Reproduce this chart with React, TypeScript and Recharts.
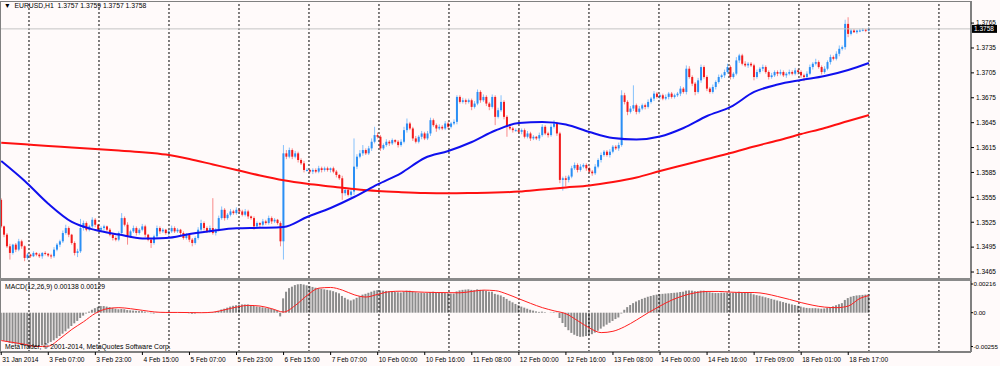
import React from "react";
import { ComposedChart, Bar, Line, XAxis, YAxis, ReferenceLine } from "recharts";

const FONT = "'Liberation Sans', Arial, sans-serif";

// EURUSD H1, prices kept as pips above 1.3400
const firstOpen = 152;
const closes = [
  120, 110, 96, 88, 98, 92, 102, 96, 82, 86,
  84, 88, 86, 84, 88, 87, 85, 84, 92, 98,
  102, 112, 118, 110, 100, 88, 90, 118, 124, 116,
  120, 128, 122, 116, 118, 120, 116, 110, 106, 104,
  112, 130, 122, 108, 114, 118, 112, 116, 120, 110,
  104, 100, 108, 118, 114, 116, 112, 114, 118, 114,
  116, 112, 106, 110, 104, 100, 106, 116, 124, 118,
  114, 118, 112, 116, 130, 140, 130, 134, 138, 136,
  140, 138, 134, 138, 132, 130, 120, 124, 122, 126,
  124, 130, 126, 128, 124, 102, 208, 204, 212, 204,
  208, 200, 196, 188, 188, 186, 188, 186, 190, 188,
  190, 188, 190, 186, 182, 178, 160, 164, 158, 162,
  192, 204, 208, 212, 208, 214, 222, 230, 228, 214,
  218, 222, 220, 224, 222, 218, 222, 236, 244, 238,
  226, 222, 228, 232, 226, 232, 248, 242, 238, 240,
  238, 244, 240, 244, 246, 276, 270, 272, 270, 272,
  264, 268, 282, 272, 276, 268, 264, 276, 252, 260,
  270, 252, 240, 238, 236, 236, 234, 236, 228, 232,
  226, 228, 226, 230, 240, 232, 230, 240, 244, 232,
  176, 178, 176, 180, 190, 194, 188, 192, 194, 190,
  186, 184, 192, 200, 206, 210, 206, 210, 216, 214,
  218, 278, 270, 258, 262, 266, 258, 262, 266, 264,
  270, 274, 280, 276, 278, 274, 276, 280, 276, 278,
  280, 286, 282, 310, 300, 292, 282, 296, 312, 300,
  286, 282, 288, 294, 300, 302, 306, 312, 300, 304,
  320, 326, 316, 314, 316, 314, 300, 306, 310, 312,
  306, 300, 302, 306, 304, 306, 302, 304, 306, 304,
  308, 306, 302, 300, 304, 312, 316, 318, 312, 306,
  310, 318, 324, 322, 328, 334, 336, 364, 352, 356,
  354, 356, 356, 357, 356, 358,
];
const wickUp = [
  2, 1, 2, 3, 1, 2, 3, 2, 1, 2,
  1, 2, 1, 2, 1, 2, 1, 2, 3, 2,
  2, 3, 4, 2, 1, 2, 3, 11, 3, 2,
  2, 3, 2, 1, 2, 2, 1, 2, 1, 2,
  2, 6, 2, 3, 2, 3, 2, 2, 3, 2,
  1, 2, 2, 3, 2, 2, 1, 2, 3, 2,
  2, 1, 2, 2, 1, 2, 2, 3, 4, 2,
  2, 3, 36, 2, 3, 4, 2, 2, 3, 2,
  3, 2, 2, 3, 2, 1, 2, 2, 1, 3,
  2, 3, 2, 2, 1, 2, 10, 4, 3, 2,
  3, 2, 2, 3, 2, 1, 2, 2, 3, 2,
  2, 2, 1, 2, 2, 1, 3, 2, 2, 3,
  34, 3, 4, 6, 2, 3, 4, 10, 3, 2,
  2, 3, 2, 2, 1, 2, 3, 4, 6, 2,
  2, 3, 2, 3, 2, 3, 3, 2, 2, 3,
  2, 3, 2, 2, 3, 2, 2, 3, 2, 2,
  2, 3, 3, 2, 3, 2, 2, 3, 2, 3,
  8, 2, 2, 3, 2, 2, 1, 2, 2, 3,
  2, 2, 1, 3, 3, 2, 2, 3, 4, 2,
  2, 2, 3, 2, 3, 3, 2, 3, 2, 2,
  2, 2, 3, 2, 3, 2, 2, 3, 2, 2,
  3, 6, 3, 2, 3, 24, 2, 3, 2, 2,
  3, 2, 3, 2, 2, 2, 3, 2, 2, 2,
  2, 3, 2, 4, 3, 2, 2, 3, 3, 2,
  2, 2, 3, 2, 3, 2, 3, 4, 2, 2,
  4, 2, 2, 3, 2, 2, 2, 3, 2, 3,
  2, 2, 3, 2, 2, 3, 2, 2, 3, 2,
  3, 2, 2, 2, 3, 3, 2, 4, 2, 2,
  3, 2, 3, 2, 3, 4, 2, 5, 8, 2,
  2, 1, 2, 2, 1, 2,
];
const wickDown = [
  2, 3, 2, 8, 2, 3, 2, 3, 4, 2,
  2, 1, 2, 2, 3, 2, 2, 3, 2, 2,
  3, 2, 2, 3, 2, 3, 5, 2, 3, 2,
  2, 2, 3, 2, 2, 3, 2, 2, 3, 2,
  2, 3, 2, 10, 2, 2, 3, 2, 2, 3,
  2, 6, 2, 2, 3, 2, 2, 3, 2, 2,
  2, 3, 2, 2, 3, 4, 2, 2, 2, 3,
  2, 2, 2, 3, 2, 2, 3, 2, 2, 2,
  2, 3, 2, 2, 3, 2, 4, 2, 3, 2,
  2, 2, 3, 2, 2, 6, 22, 3, 2, 3,
  2, 3, 2, 3, 2, 2, 3, 2, 2, 3,
  2, 2, 3, 2, 3, 2, 8, 3, 2, 3,
  4, 3, 2, 3, 2, 2, 3, 2, 2, 3,
  2, 2, 3, 2, 2, 3, 2, 2, 3, 2,
  3, 2, 2, 3, 2, 2, 3, 2, 4, 2,
  2, 2, 3, 2, 2, 3, 2, 2, 3, 2,
  4, 2, 2, 3, 2, 3, 4, 2, 10, 2,
  2, 3, 12, 2, 3, 2, 2, 3, 2, 2,
  3, 2, 2, 3, 2, 2, 3, 2, 2, 3,
  4, 13, 8, 3, 2, 2, 3, 2, 2, 3,
  2, 3, 2, 2, 3, 2, 2, 3, 2, 2,
  3, 2, 3, 4, 2, 3, 3, 2, 2, 3,
  2, 2, 3, 2, 3, 2, 2, 3, 2, 2,
  2, 3, 2, 3, 2, 3, 4, 2, 3, 2,
  3, 2, 2, 3, 2, 2, 3, 2, 3, 2,
  2, 3, 2, 2, 3, 2, 4, 2, 2, 3,
  2, 3, 2, 2, 3, 2, 2, 3, 2, 2,
  2, 3, 3, 5, 2, 2, 3, 2, 2, 3,
  2, 2, 3, 2, 2, 3, 2, 3, 4, 2,
  1, 2, 2, 1, 2, 1,
];

// moving averages read every 8 bars
const maBars = [0, 8, 16, 24, 32, 40, 48, 56, 64, 72, 80, 88, 96, 104, 112, 120, 128, 136, 144, 152, 160, 168, 176, 184, 192, 200, 208, 216, 224, 232, 240, 248, 256, 264, 272, 280, 288, 295];
const maFast = [198.8, 174.7, 147.3, 125.3, 115.6, 110.2, 105.4, 106, 110.8, 114.8, 117.7, 118.3, 119.3, 131.3, 142.2, 155.4, 170.5, 184.3, 202.4, 210.8, 221.7, 235.5, 244.6, 245.8, 242.8, 233.7, 226.5, 224.7, 228.3, 238.6, 253, 263.9, 282, 291, 296.4, 301.2, 308.5, 316.9];
const maSlow = [220.8, 218.9, 216.9, 215.2, 213.2, 211.4, 209.4, 206.5, 201.2, 194.6, 188, 181.3, 175.5, 171.3, 168.1, 165, 162.6, 161.2, 160.2, 159.9, 160.2, 160.7, 161.9, 164.4, 166.9, 169.3, 173.5, 178.9, 186.7, 194, 201.2, 208.4, 216.3, 223.5, 231.3, 238.6, 247, 254.2];

// MACD(12,26,9), units of 0.00001
const macdMain = [
  -205, -212, -220, -228, -232, -238, -240, -244, -250, -254,
  -255, -254, -252, -250, -246, -238, -230, -220, -208, -192,
  -176, -158, -140, -120, -100, -80, -62, -40, -22, -6,
  8, 22, 34, 44, 50, 50, 46, 42, 36, 30,
  26, 28, 26, 20, 18, 16, 14, 12, 12, 8,
  2, -4, -6, -2, 0, 2, 0, 2, 4, 4,
  2, 4, 2, -2, -4, -8, -6, -2, 2, 2,
  0, 2, 4, 6, 14, 24, 30, 38, 46, 52,
  56, 60, 62, 62, 62, 58, 52, 46, 44, 40,
  36, 34, 30, 24, 18, -28, 108, 158, 185, 196,
  208, 214, 216, 212, 206, 200, 194, 188, 184, 180,
  176, 172, 168, 162, 154, 146, 126, 112, 100, 92,
  100, 112, 124, 136, 142, 150, 158, 166, 170, 168,
  166, 164, 162, 160, 158, 154, 152, 158, 166, 166,
  160, 154, 150, 150, 148, 148, 156, 158, 156, 154,
  150, 148, 146, 144, 144, 160, 168, 172, 174, 176,
  172, 170, 176, 172, 170, 164, 158, 158, 142, 136,
  130, 118, 104, 90, 78, 66, 56, 46, 38, 30,
  22, 16, 10, 6, 8, 4, 0, 2, 4, -2,
  -40, -78, -108, -132, -152, -166, -176, -182, -180, -176,
  -170, -162, -150, -136, -120, -104, -90, -76, -62, -48,
  -36, -6, 22, 42, 58, 72, 84, 94, 104, 112,
  120, 126, 132, 136, 140, 142, 144, 146, 148, 150,
  152, 156, 158, 166, 168, 166, 162, 162, 166, 166,
  160, 154, 150, 148, 148, 150, 150, 152, 150, 150,
  154, 158, 156, 154, 150, 146, 138, 132, 128, 122,
  116, 110, 104, 98, 92, 86, 80, 74, 68, 62,
  58, 52, 46, 40, 36, 34, 34, 34, 32, 30,
  32, 36, 42, 48, 56, 64, 72, 96, 110, 120,
  126, 130, 132, 134, 136, 138,
];
const signalBars = [
  0, 4, 8, 12, 16, 20, 24, 28, 32, 36, 40, 44, 48, 52, 56, 60, 64, 68, 72, 76,
  80, 84, 88, 92, 96, 100, 104, 108, 112, 116, 120, 124, 128, 132, 136, 140, 144, 148, 152, 156,
  160, 164, 168, 172, 176, 180, 184, 188, 192, 196, 200, 204, 208, 212, 216, 220, 224, 228, 232, 236,
  240, 244, 248, 252, 256, 260, 264, 268, 272, 276, 280, 284, 288, 292, 295,
];
const signal = [
  -210, -224, -238, -255, -252, -195, -126, -68, -5, 30, 38, 30, 18, 6, 2, 2, 1, 0, 4, 22,
  42, 55, 50, 30, 5, 55, 130, 185, 190, 170, 135, 118, 138, 158, 162, 158, 154, 152, 151, 150,
  160, 170, 166, 140, 105, 70, 38, 14, -8, -60, -115, -150, -140, -105, -55, 0, 50, 95, 128, 150,
  160, 160, 155, 152, 152, 142, 122, 100, 76, 56, 42, 38, 50, 108, 129,
];

const labelBars = [0, 16, 32, 48, 64, 80, 96, 112, 128, 144, 160, 176, 192, 208, 224, 240, 256, 272, 288];
const timeLabels = [
  "31 Jan 2014", "3 Feb 07:00", "3 Feb 23:00", "4 Feb 15:00", "5 Feb 07:00", "5 Feb 23:00",
  "6 Feb 15:00", "7 Feb 07:00", "10 Feb 00:00", "10 Feb 16:00", "11 Feb 08:00", "12 Feb 00:00",
  "12 Feb 16:00", "13 Feb 08:00", "14 Feb 00:00", "14 Feb 16:00", "17 Feb 09:00", "18 Feb 01:00",
  "18 Feb 17:00",
];
const priceTicks = [65, 95, 125, 155, 185, 215, 245, 275, 305, 335, 365];
const macdTicks = [-255, 0, 216];

const rows: any[] = closes.map((c, i) => {
  const o = i === 0 ? firstOpen : closes[i - 1];
  const high = Math.max(o, c) + wickUp[i];
  const low = Math.min(o, c) - wickDown[i];
  return { i, open: o, close: c, high, low, range: [low, high], macd: macdMain[i] };
});
maBars.forEach((b, k) => {
  rows[b].maFast = maFast[k];
  rows[b].maSlow = maSlow[k];
});
signalBars.forEach((b, k) => {
  rows[b].signal = signal[k];
});
const lastClose = closes[closes.length - 1];

// bar-index window shown across the 971px plot
const X0 = -0.42;
const X1 = 329.74;
const gridBars = Array.from({ length: 14 }, (_, k) => 9.44 + k * 23.8);

const fmtPrice = (v: number) => (1.34 + v / 10000).toFixed(4);
const fmtMacd = (v: number) => (v === 0 ? "0.00" : (v / 100000).toFixed(5));

function Candle(props: any) {
  const { x, width, y, height, payload } = props;
  const { open, close, high, low } = payload;
  const top0 = Math.min(y, y + height);
  const h = Math.abs(height);
  const span = high - low || 1;
  const py = (v: number) => top0 + ((high - v) / span) * h;
  const bull = close >= open;
  const cx = x + width / 2;
  const bTop = py(Math.max(open, close));
  const bBot = py(Math.min(open, close));
  return (
    <g>
      <line x1={cx} x2={cx} y1={top0} y2={top0 + h} stroke={bull ? "#86c1fb" : "#f98a8a"} strokeWidth={1} />
      <rect x={cx - 1} y={bTop} width={2} height={Math.max(1, bBot - bTop)} fill={bull ? "#2b8ff5" : "#f21c1c"} />
    </g>
  );
}

function PriceTag(props: any) {
  const vb = props.viewBox || {};
  const x = vb.x + vb.width + 1;
  const y = vb.y;
  return (
    <g>
      <rect x={x} y={y - 4} width={25} height={8} fill="#000" />
      <text x={x + 2} y={y + 2.5} fontSize={6.5} fill="#fff" fontFamily={FONT}>
        {fmtPrice(lastClose)}
      </text>
    </g>
  );
}

function TimeTick(props: any) {
  const { x, y, payload } = props;
  const k = labelBars.indexOf(payload.value);
  return (
    <text x={x + 1} y={y + 6} fontSize={6.6} fill="#000" fontFamily={FONT} textAnchor="start">
      {timeLabels[k]}
    </text>
  );
}

const txt: React.CSSProperties = {
  position: "absolute",
  fontSize: 6.8,
  fontFamily: FONT,
  color: "#000",
  whiteSpace: "pre",
  lineHeight: "8px",
};

export default function App() {
  return (
    <div style={{ position: "absolute", left: 0, top: 0, width: 1000, height: 366, background: "#fffafa", overflow: "hidden" }}>
      <div style={{ position: "absolute", left: 0, top: 0 }}>
        <ComposedChart width={1000} height={278} data={rows} margin={{ top: 2, right: 0, bottom: 0, left: 0 }}>
          <XAxis type="number" dataKey="i" domain={[X0, X1]} allowDataOverflow hide />
          <YAxis
            orientation="right"
            width={29}
            type="number"
            domain={[57.8, 390.4]}
            allowDataOverflow
            ticks={priceTicks}
            interval={0}
            tickFormatter={fmtPrice}
            tick={{ fontSize: 6.5, fill: "#000", fontFamily: FONT }}
            tickSize={3}
            tickMargin={2}
            tickLine={{ stroke: "#000" }}
            axisLine={{ stroke: "#808080", strokeWidth: 2 }}
          />
          {gridBars.map((g) => (
            <ReferenceLine key={g} x={g} stroke="#000" strokeDasharray="2 2" />
          ))}
          <ReferenceLine y={lastClose} stroke="#c4c4c4" label={<PriceTag />} />
          <Bar dataKey="range" barSize={3} shape={<Candle />} isAnimationActive={false} />
          <Line dataKey="maSlow" type="monotone" stroke="#ff1010" strokeWidth={2} dot={false} connectNulls isAnimationActive={false} />
          <Line dataKey="maFast" type="monotone" stroke="#1010ee" strokeWidth={2} dot={false} connectNulls isAnimationActive={false} />
        </ComposedChart>
      </div>
      <div style={{ position: "absolute", left: 0, top: 281 }}>
        <ComposedChart width={1000} height={85} data={rows} margin={{ top: 0, right: 0, bottom: 0, left: 0 }}>
          <XAxis
            type="number"
            dataKey="i"
            domain={[X0, X1]}
            allowDataOverflow
            ticks={labelBars}
            interval={0}
            height={14}
            tick={<TimeTick />}
            tickSize={3}
            tickMargin={1}
            tickLine={{ stroke: "#000" }}
            axisLine={{ stroke: "#808080", strokeWidth: 2 }}
          />
          <YAxis
            orientation="right"
            width={29}
            type="number"
            domain={[-296, 238.7]}
            allowDataOverflow
            ticks={macdTicks}
            interval={0}
            tickFormatter={fmtMacd}
            tick={{ fontSize: 6.2, fill: "#000", fontFamily: FONT }}
            tickSize={2}
            tickMargin={0.5}
            tickLine={{ stroke: "#000" }}
            axisLine={{ stroke: "#808080", strokeWidth: 2 }}
          />
          {gridBars.map((g) => (
            <ReferenceLine key={g} x={g} stroke="#000" strokeDasharray="2 2" />
          ))}
          <Bar dataKey="macd" barSize={2} fill="#8c8c8c" isAnimationActive={false} />
          <Line dataKey="signal" type="monotone" stroke="#ff2020" strokeWidth={1} dot={false} connectNulls isAnimationActive={false} />
        </ComposedChart>
      </div>
      {/* window frame */}
      <div style={{ position: "absolute", left: 0, top: 1, width: 972, height: 1, background: "#808080" }} />
      <div style={{ position: "absolute", left: 0, top: 1, width: 1, height: 351, background: "#808080" }} />
      <div style={{ position: "absolute", left: 0, top: 278, width: 972, height: 3, background: "#8a8a8a" }} />
      <div style={{ ...txt, left: 4, top: 2 }}>{"\u25BC  EURUSD,H1  1.3757 1.3759 1.3757 1.3758"}</div>
      <div style={{ ...txt, left: 5, top: 283 }}>{"MACD(12,26,9) 0.00138 0.00129"}</div>
      <div style={{ ...txt, left: 5, top: 343 }}>{"MetaTrader, \u00A9 2001-2014, MetaQuotes Software Corp."}</div>
    </div>
  );
}
